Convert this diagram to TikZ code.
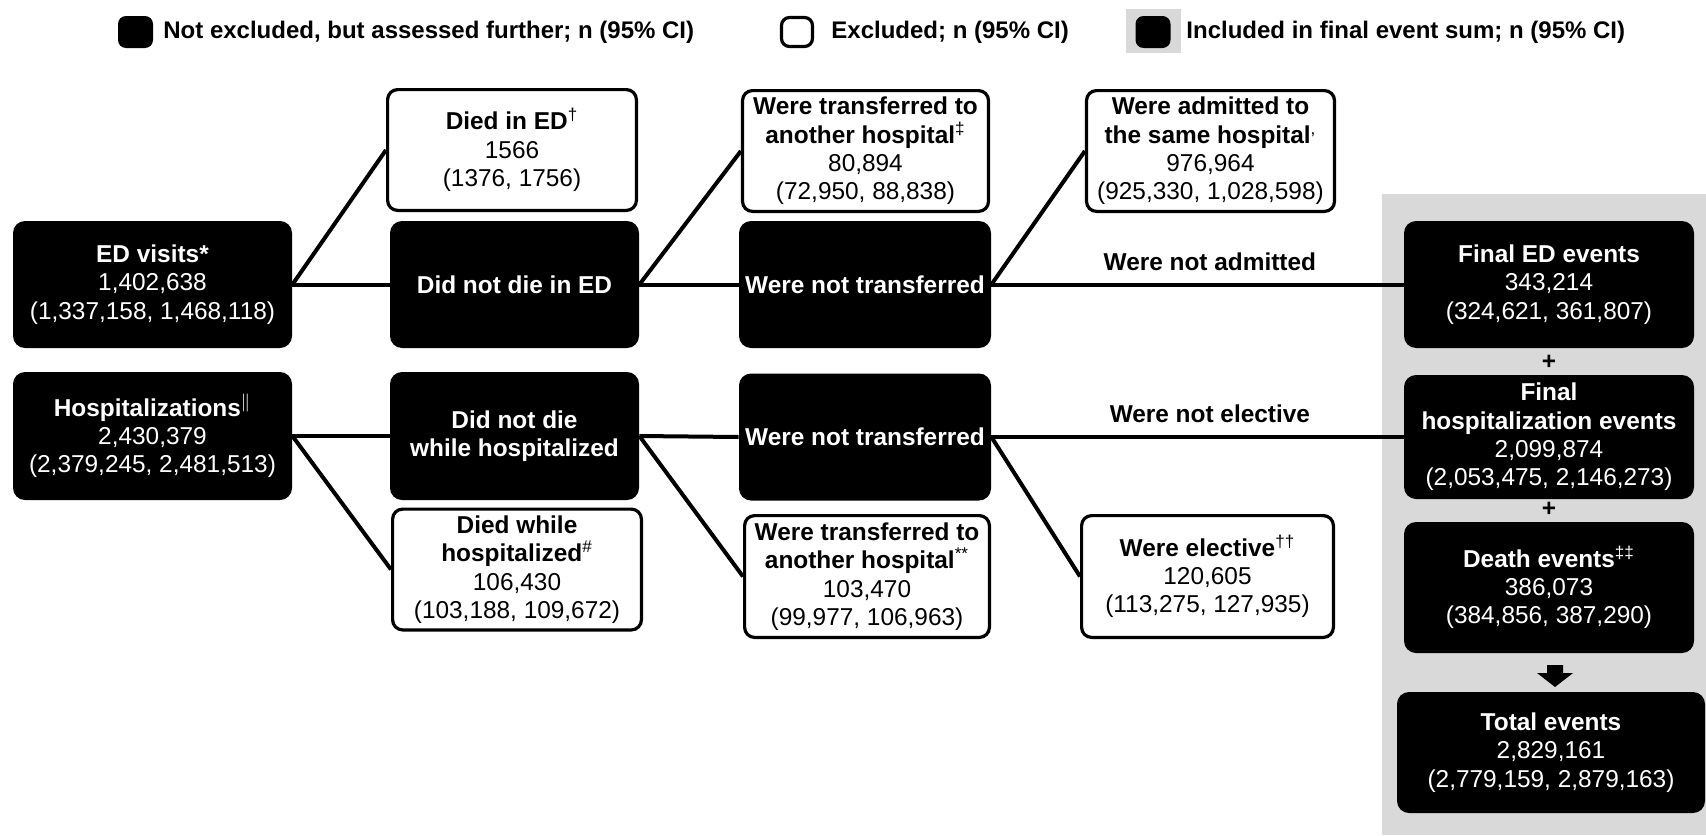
\documentclass[tikz,border=0pt]{standalone}
\usepackage{fontspec}
\setmainfont{Liberation Sans}
\definecolor{panelgray}{HTML}{D9D9D9}
\newcommand{\boxfont}{\fontsize{12.2}{14.2}\selectfont}
\newcommand{\keyfont}{\fontsize{12}{14}\selectfont\bfseries}
\tikzset{
  blackbox/.style={fill=black, text=white, rounded corners=6pt, align=center, inner sep=0pt, font=\boxfont},
  whitebox/.style={draw=black, line width=1.6pt, fill=white, rounded corners=5pt, align=center, inner sep=0pt, font=\boxfont},
  link/.style={line width=2pt},
  linklabel/.style={font=\boxfont\bfseries, inner sep=0pt, above=6pt, pos=.53},
  keytext/.style={font=\keyfont, anchor=west, inner sep=0pt}
}
\begin{document}
\begin{tikzpicture}[x=0.5pt, y=-0.5pt]
  \useasboundingbox (0,0) rectangle (1706,835);
  \fill[panelgray] (1382,194) rectangle (1706,835);

  \node[blackbox, rounded corners=4pt, minimum width=17.5pt, minimum height=16pt] (keyblack) at (135.5,32) {};
  \node[keytext] (keyblacktext) at (163,32) {Not excluded, but assessed further; n (95\% CI)};
  \node[whitebox, rounded corners=4pt, minimum width=15.5pt, minimum height=14.5pt] (keywhite) at (797,32) {};
  \node[keytext] (keywhitetext) at (831,32) {Excluded; n (95\% CI)};
  \node[fill=panelgray, inner sep=0pt, minimum width=27.5pt, minimum height=22pt] (keygray) at (1153.5,31) {};
  \node[blackbox, rounded corners=4pt, minimum width=17.5pt, minimum height=16pt] (keyfinal) at (1153,32) {};
  \node[keytext] (keyfinaltext) at (1186,32) {Included in final event sum; n (95\% CI)};

  \node[blackbox, minimum width=139.5pt, minimum height=63.5pt] (edvisits) at (152.5,284.5) {\textbf{ED visits*}\\1,402,638\\(1,337,158, 1,468,118)};
  \node[whitebox, minimum width=124.4pt, minimum height=60.4pt] (diedED) at (512,150) {\textbf{Died in ED}\textsuperscript{†}\\1566\\(1376, 1756)};
  \node[blackbox, minimum width=124.5pt, minimum height=63.5pt] (notdiedED) at (514.5,284.5) {\textbf{Did not die in ED}};
  \node[whitebox, minimum width=123pt, minimum height=60.4pt] (transA) at (865.5,151) {\textbf{Were transferred to}\\\textbf{another hospital}\textsuperscript{‡}\\80,894\\(72,950, 88,838)};
  \node[blackbox, minimum width=126pt, minimum height=63.5pt] (notransA) at (865,284.5) {\textbf{Were not transferred}};
  \node[whitebox, minimum width=124pt, minimum height=60.4pt] (admitted) at (1210.5,151) {\textbf{Were admitted to}\\\textbf{the same hospital}\textsuperscript{,}\\976,964\\(925,330, 1,028,598)};
  \node[blackbox, minimum width=145pt, minimum height=63.5pt] (finalED) at (1549,284.5) {\textbf{Final ED events}\\343,214\\(324,621, 361,807)};

  \node[blackbox, minimum width=139.5pt, minimum height=64pt] (hosp) at (152.5,436) {\textbf{Hospitalizations}\textsuperscript{$\|$}\\2,430,379\\(2,379,245, 2,481,513)};
  \node[blackbox, minimum width=124.5pt, minimum height=64pt] (notdiedH) at (514.5,436) {\textbf{Did not die}\\\textbf{while hospitalized}};
  \node[whitebox, minimum width=124.4pt, minimum height=60.4pt] (diedH) at (517,569.5) {\textbf{Died while}\\\textbf{hospitalized}\textsuperscript{\#}\\106,430\\(103,188, 109,672)};
  \node[blackbox, minimum width=126pt, minimum height=63.5pt] (notransB) at (865,437) {\textbf{Were not transferred}};
  \node[whitebox, minimum width=122.4pt, minimum height=60.9pt] (transB) at (867,576.5) {\textbf{Were transferred to}\\\textbf{another hospital}\textsuperscript{**}\\103,470\\(99,977, 106,963)};
  \node[whitebox, minimum width=125.9pt, minimum height=60.9pt] (elective) at (1207.5,576.5) {\textbf{Were elective}\textsuperscript{††}\\120,605\\(113,275, 127,935)};
  \node[blackbox, minimum width=145pt, minimum height=62pt] (finalH) at (1549,437) {\textbf{Final}\\\textbf{hospitalization events}\\2,099,874\\(2,053,475, 2,146,273)};
  \node[blackbox, minimum width=145pt, minimum height=65.5pt] (death) at (1549,587.5) {\textbf{Death events}\textsuperscript{‡‡}\\386,073\\(384,856, 387,290)};
  \node[blackbox, minimum width=154pt, minimum height=60.5pt] (total) at (1551,752.5) {\textbf{Total events}\\2,829,161\\(2,779,159, 2,879,163)};

  \node[font=\boxfont\bfseries, inner sep=0pt] (plusa) at (1549,362) {+};
  \node[font=\boxfont\bfseries, inner sep=0pt] (plusb) at (1549,509) {+};
  \fill (1547,665) -- (1563,665) -- (1563,673) -- (1573,673) -- (1555,687) -- (1537,673) -- (1547,673) -- cycle;

  \draw[link] (edvisits.east) -- (diedED.west);
  \draw[link] (edvisits.east) -- (notdiedED.west);
  \draw[link] (notdiedED.east) -- (transA.west);
  \draw[link] (notdiedED.east) -- (notransA.west);
  \draw[link] (notransA.east) -- (admitted.west);
  \draw[link] (notransA.east) -- node[linklabel] {Were not admitted} (finalED.west);
  \draw[link] (hosp.east) -- (notdiedH.west);
  \draw[link] (hosp.east) -- (diedH.west);
  \draw[link] (notdiedH.east) -- (notransB.west);
  \draw[link] (notdiedH.east) -- (transB.west);
  \draw[link] (notransB.east) -- (elective.west);
  \draw[link] (notransB.east) -- node[linklabel] {Were not elective} (finalH.west);
\end{tikzpicture}
\end{document}
